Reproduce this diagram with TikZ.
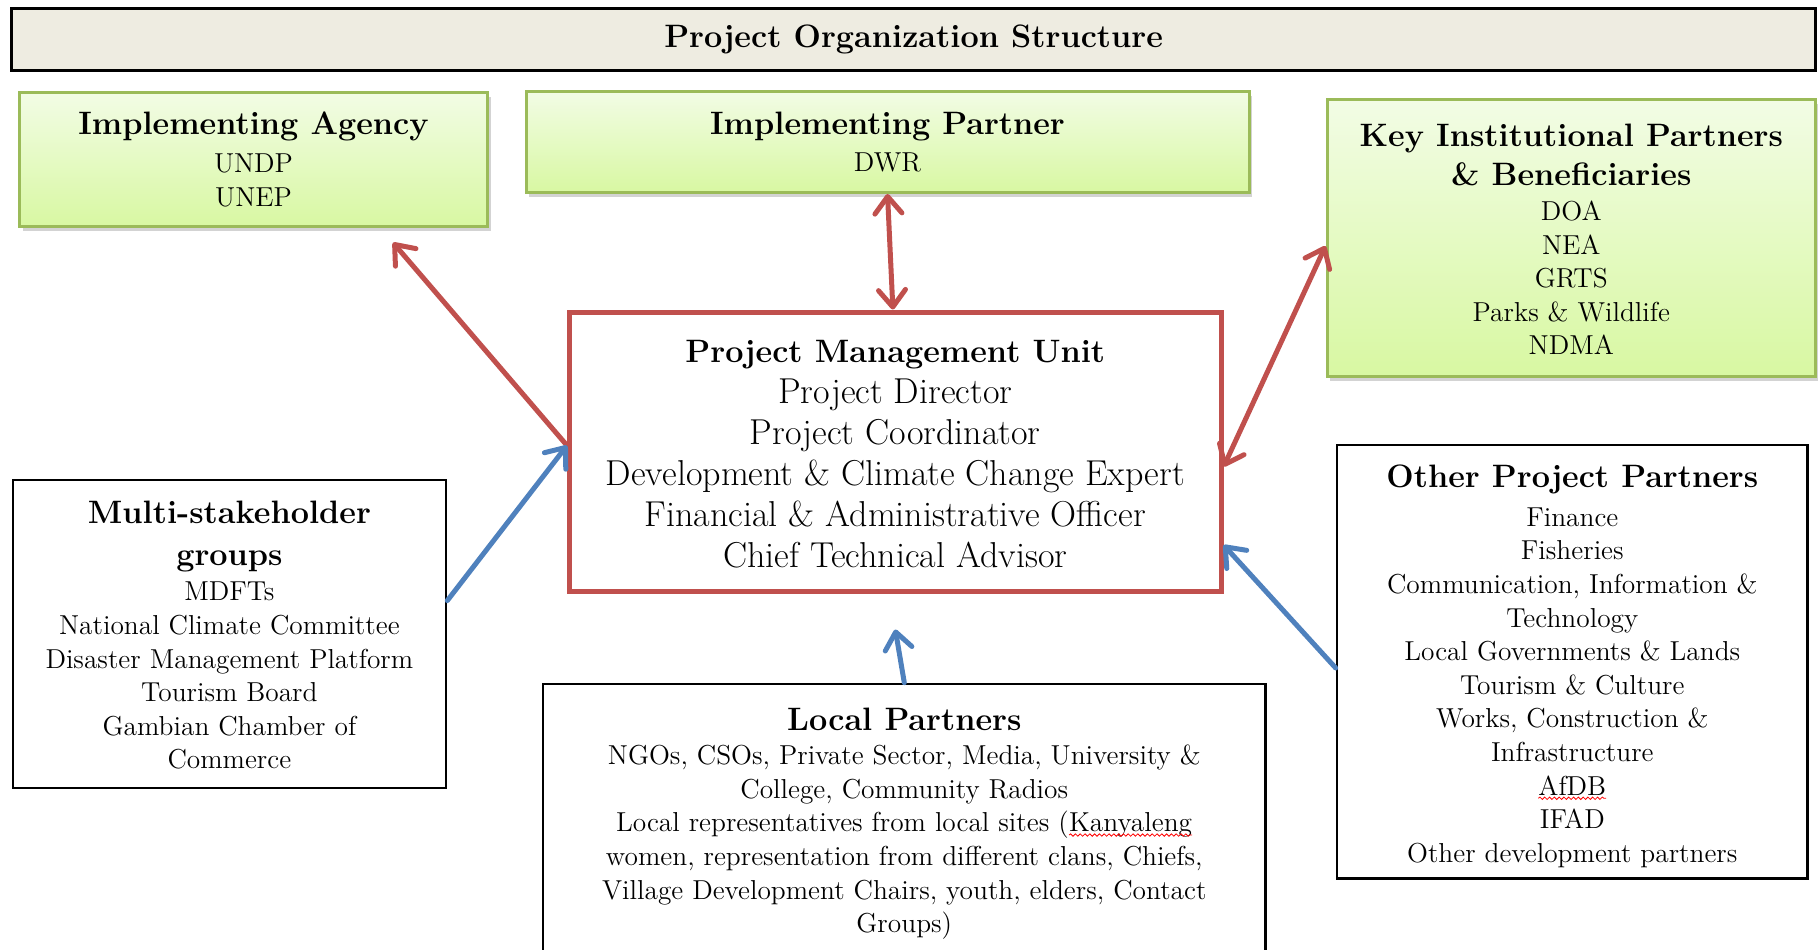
\documentclass[tikz,border=0pt]{standalone}
\usepackage{tikz}
\usetikzlibrary{arrows.meta}
\usetikzlibrary{shadows,decorations.pathmorphing}
\usepackage{xcolor}

\definecolor{pmured}{HTML}{C0504D}
\definecolor{linkblue}{HTML}{4F81BD}
\definecolor{olivegreen}{HTML}{9BBB59}
\definecolor{limetop}{HTML}{F2FCE5}
\definecolor{limebottom}{HTML}{D8F8A2}
\definecolor{titletan}{HTML}{EEECE1}

\newcommand{\headfont}{\fontsize{16.2}{20.5}\selectfont\bfseries}
\newcommand{\bodyfont}{\fontsize{13.7}{16.8}\selectfont}
\newcommand{\pmufont}{\fontsize{18}{20.5}\selectfont}
% red wavy underline of the spell checker
\newcommand{\spellmark}[1]{\tikz[baseline=(sw.base)]{\node[draw=none,fill=none,inner sep=0pt,outer sep=0pt,minimum width=0pt,minimum height=0pt] (sw) {#1};
  \draw[red,line width=0.4pt,decorate,decoration={snake,amplitude=0.6pt,segment length=2.4pt}] ([yshift=-1.6pt]sw.base west) -- ([yshift=-1.6pt]sw.base east);}}

\tikzset{barb/.tip={Straight Barb[length=8.5pt,width=13.5pt,round]}}

\begin{document}
\begin{tikzpicture}[x=0.5pt,y=-0.5pt,
    greenbox/.style={draw=olivegreen,line width=1.5pt,top color=limetop,bottom color=limebottom,
      drop shadow={shadow xshift=1.5pt,shadow yshift=-2.2pt,opacity=0.35},align=center,inner sep=0pt,font=\bodyfont},
    blackbox/.style={draw=black,line width=1.3pt,fill=white,align=center,inner sep=0pt,font=\bodyfont},
    redlink/.style={pmured,line width=2.5pt,line cap=round},
    bluelink/.style={linkblue,line width=2.5pt,line cap=round}]
  \useasboundingbox (0,0) rectangle (1818,949);

  % title bar
  \node[draw=black,line width=1.5pt,fill=titletan,minimum width=902pt,minimum height=31.3pt,inner sep=0pt,font=\headfont] (title) at (913.6,39.4) {Project Organization Structure};

  % agencies and partners
  \node[greenbox,minimum width=234pt,minimum height=67pt] (agency) at (253.5,159.5) {{\headfont Implementing Agency}\\[2pt]UNDP\\UNEP};
  \node[greenbox,minimum width=361.5pt,minimum height=50.5pt] (partner) at (887.5,142) {{\headfont Implementing Partner}\\[2pt]DWR};
  \node[greenbox,minimum width=244.3pt,minimum height=138.3pt] (key) at (1571.3,237.8) {{\headfont\rule{0pt}{12.8pt}Key Institutional Partners}\\[3pt]{\headfont \& Beneficiaries}\\[0.5pt]DOA\\NEA\\GRTS\\Parks \& Wildlife\\NDMA};

  \node[draw=pmured,line width=2.5pt,fill=white,minimum width=325.8pt,minimum height=139.5pt,align=center,inner sep=0pt,font=\pmufont] (pmu) at (895.3,451.5) {{\headfont\rule{0pt}{13.5pt}Project Management Unit}\\Project Director\\Project Coordinator\\Development \& Climate Change Expert\\Financial \& Administrative Officer\\Chief Technical Advisor};

  \node[blackbox,minimum width=216.6pt,minimum height=154pt] (multi) at (229.4,634) {{\headfont\rule{0pt}{12.5pt}Multi-stakeholder}\\[4pt]{\headfont groups}\\[1pt]MDFTs\\National Climate Committee\\Disaster Management Platform\\Tourism Board\\Gambian Chamber of\\Commerce};
  \node[blackbox,minimum width=361.3pt,minimum height=139.5pt] (local) at (904.3,823.5) {{\headfont Local Partners}\\[0.5pt]NGOs, CSOs, Private Sector, Media, University \&\\College, Community Radios\\Local representatives from local sites (\spellmark{Kanyaleng}\\women, representation from different clans, Chiefs,\\Village Development Chairs, youth, elders, Contact\\Groups)};
  \node[blackbox,minimum width=235.3pt,minimum height=216.8pt] (other) at (1572.3,661.8) {{\headfont\rule{0pt}{15.8pt}Other Project Partners}\\[2.5pt]Finance\\Fisheries\\Communication, Information \&\\Technology\\Local Governments \& Lands\\Tourism \& Culture\\Works, Construction \&\\Infrastructure\\\spellmark{AfDB}\\IFAD\\Other development partners};

  % links to the management unit
  \draw[redlink,-barb] ([yshift=3pt]pmu.west) -- ([xshift=69.75pt,yshift=-7.3pt]agency.south);
  \draw[redlink,barb-barb] (partner.south) -- ([xshift=-1.2pt]pmu.north);
  \draw[redlink,barb-barb] ([yshift=-4.1pt]key.west) -- ([yshift=-7.6pt]pmu.east);
  \draw[bluelink,-barb] ([yshift=16.7pt]multi.east) -- ([yshift=3pt]pmu.west);
  \draw[bluelink,-barb] (local.north) -- ([yshift=-18pt]pmu.south);
  \draw[bluelink,-barb] ([yshift=-3.1pt]other.west) -- ([yshift=-46.75pt]pmu.east);
\end{tikzpicture}
\end{document}
